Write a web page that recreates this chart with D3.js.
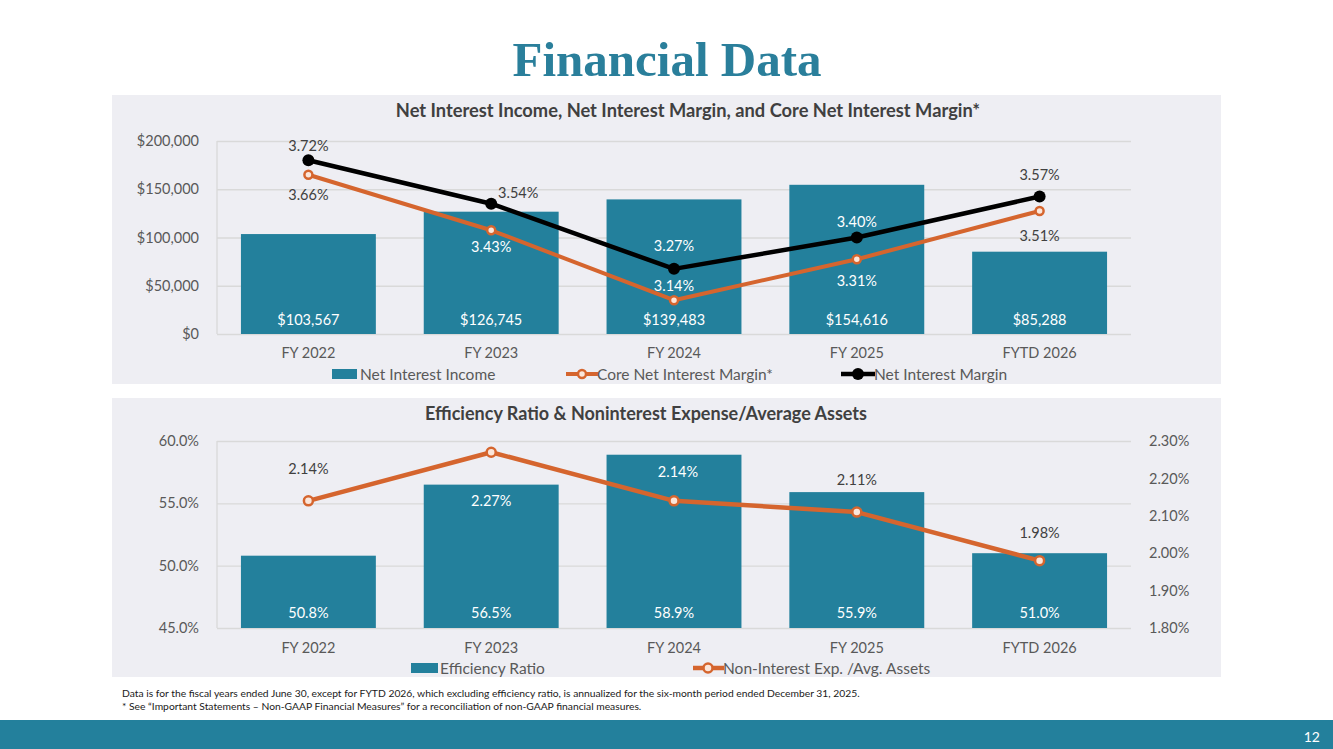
<!DOCTYPE html>
<html lang="en">
<head>
<meta charset="utf-8">
<title>Financial Data</title>
<script src="https://d3js.org/d3.v7.min.js"></script>
<style>
  body { margin: 0; background: #fff; }
  svg { display: block; font-family: Lato, "Open Sans", sans-serif; }
</style>
</head>
<body>
<script>
// data
const years = ["FY 2022", "FY 2023", "FY 2024", "FY 2025", "FYTD 2026"];
const netInterestIncome = [103567, 126745, 139483, 154616, 85288];
const coreNim = [3.66, 3.43, 3.14, 3.31, 3.51];
const nim = [3.72, 3.54, 3.27, 3.40, 3.57];
const incomeTicks = [0, 50000, 100000, 150000, 200000];

const efficiencyRatio = [50.8, 56.5, 58.9, 55.9, 51.0];
const nonIntExpAssets = [2.14, 2.27, 2.14, 2.11, 1.98];
const effTicks = [45, 50, 55, 60];
const expTicks = [1.8, 1.9, 2.0, 2.1, 2.2, 2.3];

// label nudges (dx, dy) for the line labels
const nimLabelOff = [[0, -14], [27, -11], [0, -23], [0, -16], [0, -22]];
const coreLabelOff = [[0, 20], [0, 17], [0, -14], [0, 22], [0, 25]];
const expLabelOff = [[0, -32], [0, 49], [4, -29], [0, -32], [0, -28]];

const W = 1333, H = 749;
const teal = "#23809c", orange = "#d5652e", grid = "#d9d9d9";
const tickCol = "#595959", labCol = "#404040";
const fs = "14.5px", legFs = "15.5px";

const svg = d3.select("body").append("svg")
  .attr("width", W).attr("height", H);

// title
svg.append("text")
  .attr("x", 667).attr("y", 76)
  .attr("text-anchor", "middle")
  .style("font-family", "'Liberation Serif', 'DejaVu Serif', serif")
  .style("font-weight", "bold")
  .style("font-size", "49px")
  .attr("fill", "#2a7f9b")
  .text("Financial Data");

// panels
svg.append("rect").attr("x", 112).attr("y", 95).attr("width", 1109).attr("height", 289).attr("fill", "#eeeef3");
svg.append("rect").attr("x", 112).attr("y", 398).attr("width", 1109).attr("height", 279).attr("fill", "#eeeef3");

const x = d3.scaleBand().domain(years).range([217, 1131])
  .paddingInner(0.262).paddingOuter(0.131);
const cx = d => x(d) + x.bandwidth() / 2;

function gridAndAxis(g, scale, ticks, fmt, left, right) {
  g.append("g")
    .attr("transform", `translate(${left},0)`)
    .call(d3.axisLeft(scale).tickValues(ticks).tickSize(left - right).tickFormat(""))
    .call(a => a.select(".domain").remove())
    .call(a => a.selectAll("line").attr("stroke", grid).attr("stroke-width", 1.3));
  g.append("g")
    .attr("transform", `translate(${left - 15},0)`)
    .call(d3.axisLeft(scale).tickValues(ticks).tickSize(0).tickFormat(fmt))
    .call(a => a.select(".domain").remove())
    .call(a => a.selectAll("text").attr("fill", tickCol).style("font-size", fs).style("font-family", "Lato, sans-serif"));
  const [y0, y1] = scale.range();
  g.append("line").attr("x1", left).attr("x2", left).attr("y1", y0).attr("y2", y1)
    .attr("stroke", grid).attr("stroke-width", 1.3);
}

function xLabels(g, y) {
  g.append("g")
    .attr("transform", `translate(0,${y})`)
    .call(d3.axisBottom(x).tickSize(0))
    .call(a => a.select(".domain").remove())
    .call(a => a.selectAll("text").attr("fill", tickCol).style("font-size", fs).style("font-family", "Lato, sans-serif"));
}

function chartTitle(g, cxTitle, y, size, t) {
  g.append("text").attr("x", cxTitle).attr("y", y).attr("text-anchor", "middle")
    .attr("fill", labCol).style("font-weight", "bold").style("font-size", size).text(t);
}

// ---------- top chart ----------
const topG = svg.append("g");
const yInc = d3.scaleLinear().domain([0, 200000]).range([334, 141]);
const yNim = d3.scaleLinear().domain([3.0, 3.8]).range([334, 141]);

chartTitle(topG, 688, 117, "18.3px", "Net Interest Income, Net Interest Margin, and Core Net Interest Margin*");
gridAndAxis(topG, yInc, incomeTicks, d => "$" + d3.format(",")(d), 217, 1131);

topG.selectAll("rect.bar").data(netInterestIncome).join("rect")
  .attr("class", "bar")
  .attr("x", (d, i) => x(years[i]))
  .attr("width", x.bandwidth())
  .attr("y", d => yInc(d))
  .attr("height", d => yInc(0) - yInc(d))
  .attr("fill", teal);

topG.selectAll("text.barlab").data(netInterestIncome).join("text")
  .attr("class", "barlab")
  .attr("x", (d, i) => cx(years[i]))
  .attr("y", yInc(0) - 9)
  .attr("text-anchor", "middle")
  .attr("fill", "#fff").style("font-size", fs)
  .text(d => "$" + d3.format(",")(d));

xLabels(topG, 345);

const lineOf = (scale) => d3.line().x((d, i) => cx(years[i])).y(d => scale(d));

topG.append("path").datum(coreNim).attr("d", lineOf(yNim))
  .attr("fill", "none").attr("stroke", orange).attr("stroke-width", 4).attr("stroke-linejoin", "round");
topG.selectAll("circle.core").data(coreNim).join("circle")
  .attr("class", "core")
  .attr("cx", (d, i) => cx(years[i])).attr("cy", d => yNim(d)).attr("r", 4)
  .attr("fill", "#fbe6da").attr("stroke", orange).attr("stroke-width", 2.5);

topG.append("path").datum(nim).attr("d", lineOf(yNim))
  .attr("fill", "none").attr("stroke", "#000").attr("stroke-width", 4.5).attr("stroke-linejoin", "round");
topG.selectAll("circle.nim").data(nim).join("circle")
  .attr("class", "nim")
  .attr("cx", (d, i) => cx(years[i])).attr("cy", d => yNim(d)).attr("r", 6)
  .attr("fill", "#000");

function lineLabels(g, vals, scale, offs, cls, fill) {
  g.selectAll("text." + cls).data(vals).join("text")
    .attr("class", cls)
    .attr("x", (d, i) => cx(years[i]) + offs[i][0])
    .attr("y", (d, i) => scale(d) + offs[i][1])
    .attr("dy", "0.35em")
    .attr("text-anchor", "middle")
    .attr("fill", (d, i) => typeof fill === "function" ? fill(d, i) : fill)
    .style("font-size", fs)
    .text(d => d.toFixed(2) + "%");
}
// labels sitting over bars are white, the rest dark
const onBar = (valsScale, bars, barScale, offs) => (d, i) =>
  (valsScale(d) + offs[i][1] > barScale(bars[i]) + 4) ? "#fff" : labCol;

lineLabels(topG, nim, yNim, nimLabelOff, "nimlab", onBar(yNim, netInterestIncome, yInc, nimLabelOff));
lineLabels(topG, coreNim, yNim, coreLabelOff, "corelab", onBar(yNim, netInterestIncome, yInc, coreLabelOff));

// top legend
const lg1 = topG.append("g").style("font-size", legFs);
lg1.append("rect").attr("x", 332).attr("y", 369).attr("width", 25).attr("height", 10).attr("fill", teal);
lg1.append("text").attr("x", 360).attr("y", 379.5).attr("fill", tickCol).text("Net Interest Income");
lg1.append("line").attr("x1", 566).attr("x2", 598).attr("y1", 374).attr("y2", 374).attr("stroke", orange).attr("stroke-width", 4);
lg1.append("circle").attr("cx", 582).attr("cy", 374).attr("r", 4).attr("fill", "#fbe6da").attr("stroke", orange).attr("stroke-width", 2.5);
lg1.append("text").attr("x", 597).attr("y", 379.5).attr("fill", tickCol).text("Core Net Interest Margin*");
lg1.append("line").attr("x1", 841).attr("x2", 875).attr("y1", 374).attr("y2", 374).attr("stroke", "#000").attr("stroke-width", 4.5);
lg1.append("circle").attr("cx", 858).attr("cy", 374).attr("r", 6).attr("fill", "#000");
lg1.append("text").attr("x", 874).attr("y", 379.5).attr("fill", tickCol).text("Net Interest Margin");

// ---------- bottom chart ----------
const bot = svg.append("g");
const yEff = d3.scaleLinear().domain([45, 60]).range([628, 441]);
const yExp = d3.scaleLinear().domain([1.8, 2.3]).range([628, 441]);

chartTitle(bot, 646, 420, "18px", "Efficiency Ratio & Noninterest Expense/Average Assets");
gridAndAxis(bot, yEff, effTicks, d => d.toFixed(1) + "%", 217, 1131);

bot.append("g")
  .attr("transform", "translate(1146,0)")
  .call(d3.axisRight(yExp).tickValues(expTicks).tickSize(0).tickFormat(d => d.toFixed(2) + "%"))
  .call(a => a.select(".domain").remove())
  .call(a => a.selectAll("text").attr("fill", tickCol).style("font-size", fs).style("font-family", "Lato, sans-serif"));

bot.selectAll("rect.bar").data(efficiencyRatio).join("rect")
  .attr("class", "bar")
  .attr("x", (d, i) => x(years[i]))
  .attr("width", x.bandwidth())
  .attr("y", d => yEff(d))
  .attr("height", d => yEff(45) - yEff(d))
  .attr("fill", teal);

bot.selectAll("text.barlab").data(efficiencyRatio).join("text")
  .attr("class", "barlab")
  .attr("x", (d, i) => cx(years[i]))
  .attr("y", yEff(45) - 10)
  .attr("text-anchor", "middle")
  .attr("fill", "#fff").style("font-size", fs)
  .text(d => d.toFixed(1) + "%");

xLabels(bot, 640);

bot.append("path").datum(nonIntExpAssets).attr("d", lineOf(yExp))
  .attr("fill", "none").attr("stroke", orange).attr("stroke-width", 4.5).attr("stroke-linejoin", "round");
bot.selectAll("circle.exp").data(nonIntExpAssets).join("circle")
  .attr("class", "exp")
  .attr("cx", (d, i) => cx(years[i])).attr("cy", d => yExp(d)).attr("r", 4.5)
  .attr("fill", "#fbe6da").attr("stroke", orange).attr("stroke-width", 2.5);

lineLabels(bot, nonIntExpAssets, yExp, expLabelOff, "explab", onBar(yExp, efficiencyRatio, yEff, expLabelOff));

// bottom legend
const lg2 = bot.append("g").style("font-size", legFs);
lg2.append("rect").attr("x", 411).attr("y", 663).attr("width", 27).attr("height", 10).attr("fill", teal);
lg2.append("text").attr("x", 440).attr("y", 673.5).attr("fill", tickCol).text("Efficiency Ratio");
lg2.append("line").attr("x1", 693).attr("x2", 724).attr("y1", 668).attr("y2", 668).attr("stroke", orange).attr("stroke-width", 4.5);
lg2.append("circle").attr("cx", 708).attr("cy", 668).attr("r", 4.5).attr("fill", "#fbe6da").attr("stroke", orange).attr("stroke-width", 2.5);
lg2.append("text").attr("x", 723).attr("y", 673.5).attr("fill", tickCol).text("Non-Interest Exp. /Avg. Assets");

// footnotes
const notes = svg.append("g").style("font-size", "10.3px").attr("fill", "#1a1a1a");
notes.append("text").attr("x", 122).attr("y", 697)
  .text("Data is for the fiscal years ended June 30, except for FYTD 2026, which excluding efficiency ratio, is annualized for the six-month period ended December 31, 2025.");
notes.append("text").attr("x", 122).attr("y", 710)
  .text("* See \u201cImportant Statements \u2013 Non-GAAP Financial Measures\u201d for a reconciliation of non-GAAP financial measures.");

// footer band
svg.append("rect").attr("x", 0).attr("y", 720).attr("width", W).attr("height", 29).attr("fill", teal);
svg.append("text").attr("x", 1320).attr("y", 742).attr("text-anchor", "end")
  .attr("fill", "#fff").style("font-size", "14px").text("12");
</script>
</body>
</html>
